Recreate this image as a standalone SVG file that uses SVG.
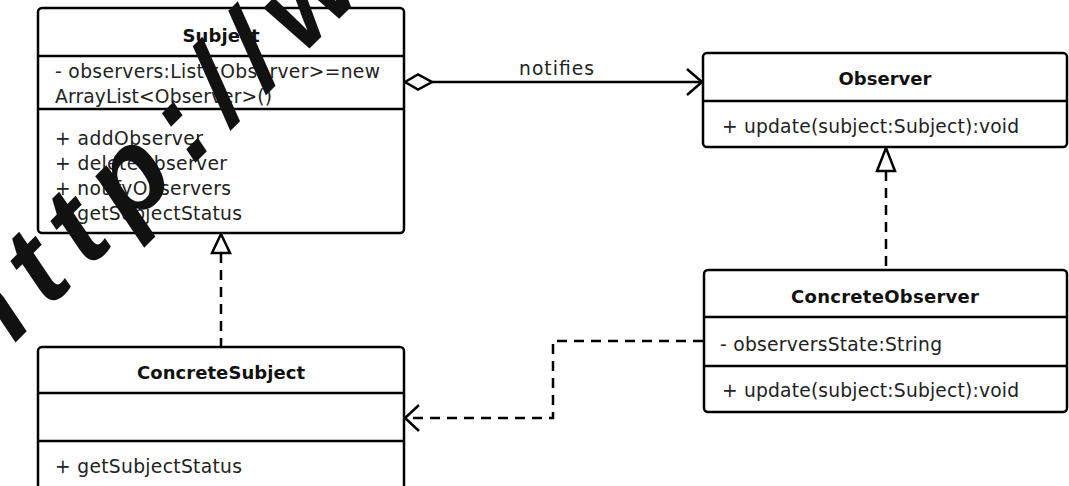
<svg xmlns="http://www.w3.org/2000/svg" width="1069" height="486" viewBox="0 0 1069 486">
  <style>
    .box { fill: #ffffff; stroke: #000000; stroke-width: 2.5; }
    .sep { stroke: #000000; stroke-width: 2.5; }
    .title { font-family: "DejaVu Sans", "Noto Sans", sans-serif; font-weight: bold; font-size: 18px; fill: #111111; text-anchor: middle; }
    .member { font-family: "DejaVu Sans", "Noto Sans", sans-serif; font-size: 18.7px; fill: #222222; }
    .edge { fill: none; stroke: #000000; stroke-width: 2.5; }
    .dashed { stroke-dasharray: 10 7; }
    .wm { font-family: "Liberation Sans", Arial, sans-serif; font-weight: bold; font-style: italic; font-size: 116px; letter-spacing: 18px; fill: #111111; }
  </style>
  <rect width="1069" height="486" fill="#ffffff"/>

  <!-- connectors -->
  <g id="connectors">
    <!-- Subject aggregates Observer: notifies -->
    <g id="edge-notifies">
      <polygon class="edge" points="405,82 418,74.5 432,82 418,89.5" fill="#ffffff"/>
      <line class="edge" x1="432" y1="82" x2="702" y2="82"/>
      <polyline class="edge" points="687,69 702,82 687,95"/>
      <text class="member" x="519" y="75" textLength="75">notifies</text>
    </g>
    <!-- ConcreteSubject realizes Subject -->
    <g id="edge-subject-realization">
      <line class="edge dashed" x1="221" y1="253" x2="221" y2="347"/>
      <polygon class="edge" points="221,234 230,253 212,253" fill="#ffffff"/>
    </g>
    <!-- ConcreteObserver realizes Observer -->
    <g id="edge-observer-realization">
      <line class="edge dashed" x1="886" y1="171" x2="886" y2="271"/>
      <polygon class="edge" points="886,148 895,171 877,171" fill="#ffffff"/>
    </g>
    <!-- ConcreteObserver depends on ConcreteSubject -->
    <g id="edge-dependency">
      <polyline class="edge dashed" points="703,341 553,341 553,418 407,418"/>
      <polyline class="edge" points="419,405 405,418 419,431"/>
    </g>
  </g>

  <!-- Subject -->
  <g id="node-subject">
    <rect class="box" x="38" y="8" width="366" height="225" rx="4"/>
    <line class="sep" x1="38" y1="56" x2="404" y2="56"/>
    <line class="sep" x1="38" y1="109" x2="404" y2="109"/>
    <text class="title" x="221" y="42" textLength="77">Subject</text>
    <text class="member" x="55" y="78" textLength="325">- observers:List&lt;Observer&gt;=new</text>
    <text class="member" x="55" y="103" textLength="217">ArrayList&lt;Observer&gt;()</text>
    <text class="member" x="55" y="145" textLength="148">+ addObserver</text>
    <text class="member" x="55" y="170" textLength="172">+ deleteObserver</text>
    <text class="member" x="55" y="195" textLength="176">+ notifyObservers</text>
    <text class="member" x="55" y="220" textLength="187">+ getSubjectStatus</text>
  </g>

  <!-- Observer -->
  <g id="node-observer">
    <rect class="box" x="703" y="53" width="364" height="94" rx="4"/>
    <line class="sep" x1="703" y1="101" x2="1067" y2="101"/>
    <text class="title" x="885" y="85" textLength="93">Observer</text>
    <text class="member" x="722" y="133" textLength="297">+ update(subject:Subject):void</text>
  </g>

  <!-- ConcreteSubject -->
  <g id="node-concrete-subject">
    <rect class="box" x="38" y="347" width="366" height="145" rx="4"/>
    <line class="sep" x1="38" y1="393" x2="404" y2="393"/>
    <line class="sep" x1="38" y1="441" x2="404" y2="441"/>
    <text class="title" x="221" y="379" textLength="168">ConcreteSubject</text>
    <text class="member" x="55" y="473" textLength="187">+ getSubjectStatus</text>
  </g>

  <!-- ConcreteObserver -->
  <g id="node-concrete-observer">
    <rect class="box" x="704" y="270" width="363" height="142" rx="4"/>
    <line class="sep" x1="704" y1="317" x2="1067" y2="317"/>
    <line class="sep" x1="704" y1="366" x2="1067" y2="366"/>
    <text class="title" x="885" y="303" textLength="188">ConcreteObserver</text>
    <text class="member" x="720" y="351" textLength="222">- observersState:String</text>
    <text class="member" x="722" y="397" textLength="297">+ update(subject:Subject):void</text>
  </g>

  <!-- site watermark laid over the drawing -->
  <text class="wm" transform="translate(-14,372) rotate(-45)">http://w</text>
</svg>
